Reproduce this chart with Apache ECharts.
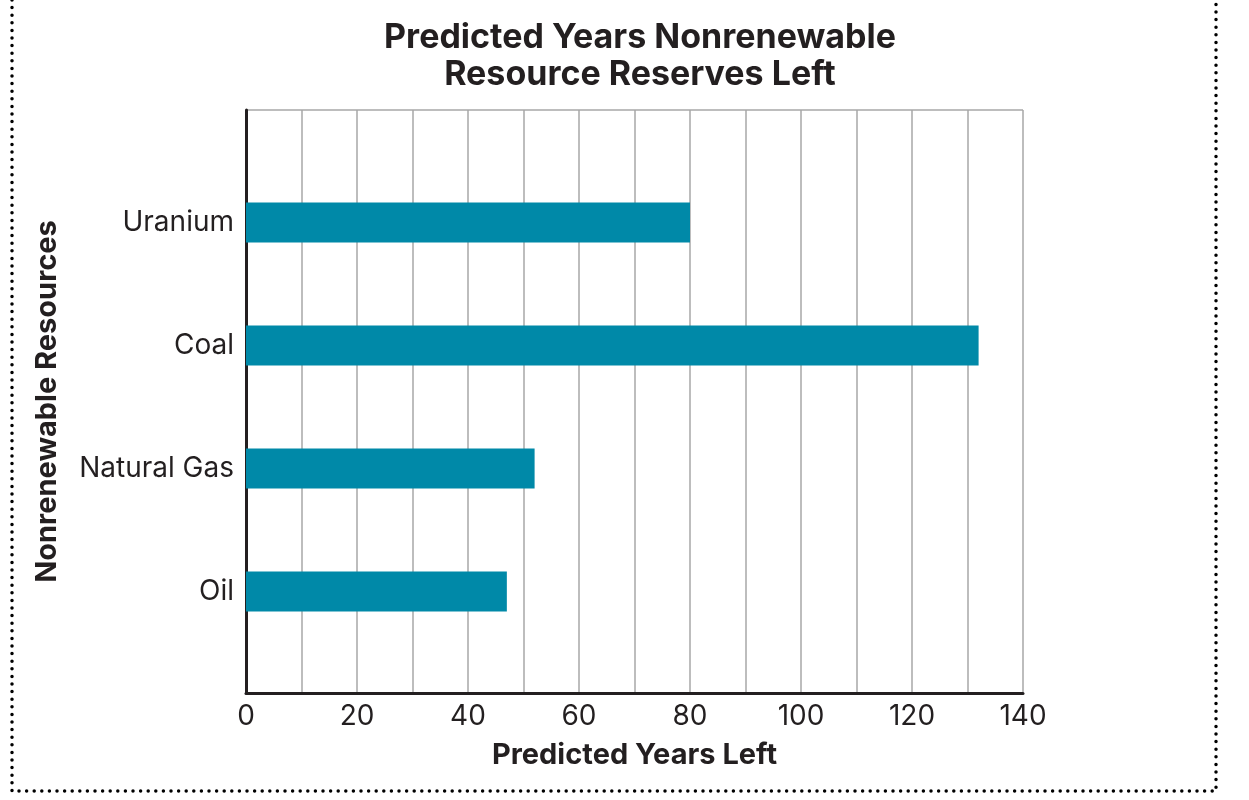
<!DOCTYPE html>
<html>
<head>
<meta charset="utf-8">
<script src="https://cdn.jsdelivr.net/npm/echarts@6/dist/echarts.min.js"></script>
<style>
html,body{margin:0;padding:0;background:#fff;}
#chart{width:1249px;height:800px;}
</style>
</head>
<body>
<div id="chart"></div>
<script>
const categories = ['Oil', 'Natural Gas', 'Coal', 'Uranium'];
const yearsLeft = [47, 52, 132, 80];
const xTicks = [0, 20, 40, 60, 80, 100, 120, 140];

const FONT = 'Inter, sans-serif';
const TXT = '#231f20';
const chart = echarts.init(document.getElementById('chart'));
chart.setOption({
  backgroundColor: '#fff',
  animation: false,
  title: {
    text: 'Predicted Years Nonrenewable\nResource Reserves Left',
    left: 635, top: 14, textAlign: 'center',
    textStyle: {fontFamily: FONT, fontWeight: 'bold', fontSize: 34, lineHeight: 37, color: TXT}
  },
  grid: [
    {left: 246, right: 226, top: 110, bottom: 107},
    {left: 246, right: 226, top: 161, bottom: 147}
  ],
  xAxis: [
    {
      gridIndex: 0, type: 'value', min: 0, max: 140, interval: 10,
      name: 'Predicted Years Left', nameLocation: 'middle', nameGap: 48,
      nameTextStyle: {fontFamily: FONT, fontWeight: 'bold', fontSize: 29, color: TXT},
      axisLine: {show: true, lineStyle: {color: '#231f20', width: 3}},
      axisTick: {show: false},
      axisLabel: {
        fontFamily: FONT, fontSize: 28, color: TXT, margin: 10,
        formatter: v => xTicks.indexOf(v) >= 0 ? String(v) : ''
      },
      splitLine: {show: true, lineStyle: {color: '#a7a7a7', width: 1.5}}
    },
    {gridIndex: 1, type: 'value', min: 0, max: 140, show: false}
  ],
  yAxis: [
    {
      gridIndex: 0, type: 'value', min: 0, max: 1, interval: 1,
      name: 'Nonrenewable Resources', nameLocation: 'middle', nameGap: 184, nameRotate: 90,
      nameTextStyle: {fontFamily: FONT, fontWeight: 'bold', fontSize: 29, color: TXT},
      axisLine: {show: true, lineStyle: {color: '#231f20', width: 3}},
      axisTick: {show: false},
      axisLabel: {show: false},
      splitLine: {show: true, lineStyle: {color: '#a7a7a7', width: 1.5}}
    },
    {
      gridIndex: 1, type: 'category', data: categories,
      axisLine: {show: false}, axisTick: {show: false},
      axisLabel: {fontFamily: FONT, fontSize: 28, color: TXT, margin: 12},
      splitLine: {show: false}
    }
  ],
  series: [{
    type: 'bar', xAxisIndex: 1, yAxisIndex: 1,
    data: yearsLeft, barWidth: 40,
    itemStyle: {color: '#0089a8'}
  }],
  graphic: [{
    type: 'polyline', silent: true,
    shape: {points: [[12, 0], [12, 791], [1216, 791], [1216, 0]]},
    style: {stroke: '#000', lineWidth: 3.5, lineCap: 'round', lineDash: [0, 7.6], fill: null}
  }]
});
</script>
</body>
</html>
